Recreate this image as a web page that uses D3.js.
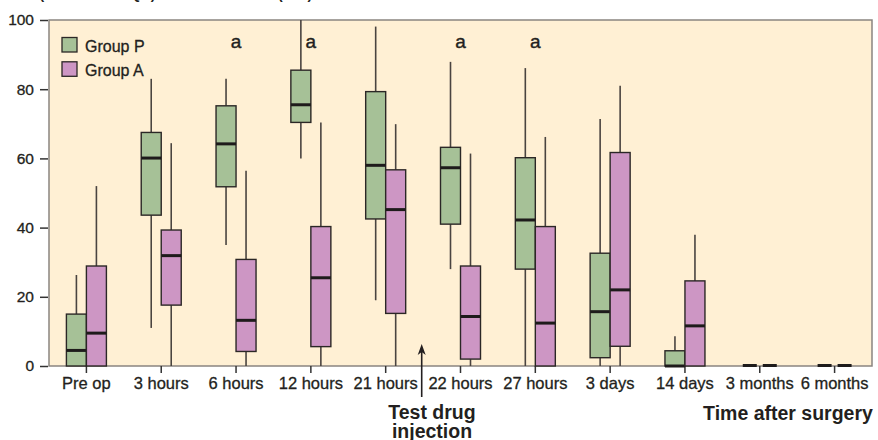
<!DOCTYPE html>
<html>
<head>
<meta charset="utf-8">
<script src="https://cdn.jsdelivr.net/npm/d3@7"></script>
<style>
  body { margin: 0; background: #fff; }
  text { font-family: "Liberation Sans", Arial, Helvetica, sans-serif; fill: #231f20; }
</style>
</head>
<body>
<svg id="chart" width="878" height="440"></svg>
<script>
// categories along the x axis
var categories = ["Pre op", "3 hours", "6 hours", "12 hours", "21 hours", "22 hours",
                  "27 hours", "3 days", "14 days", "3 months", "6 months"];

// Group P: whisker min, q1, median, q3, whisker max
var pMin = [0, 11, 35, 60, 19, 28, 0, 0, 0, 0, 0];
var pQ1  = [0, 43.6, 51.8, 70.4, 42.5, 41, 28, 2.4, 0, 0, 0];
var pMed = [4.5, 60.1, 64.2, 75.5, 58, 57.3, 42.2, 15.7, 0, 0, 0];
var pQ3  = [15, 67.5, 75.2, 85.5, 79.3, 63.2, 60.2, 32.6, 4.4, 0, 0];
var pMax = [26.3, 83, 83, 100, 98.1, 87.9, 86.1, 71.4, 8.6, 0, 0];

// Group A
var aMin = [0, 0, 0, 0, 0, 0, 0, 0, 0, 0, 0];
var aQ1  = [0, 17.6, 4.2, 5.6, 15.2, 2, 0, 5.7, 0, 0, 0];
var aMed = [9.5, 31.9, 13.2, 25.5, 45.2, 14.3, 12.4, 22, 11.6, 0, 0];
var aQ3  = [28.9, 39.3, 30.8, 40.3, 56.7, 28.9, 40.3, 61.7, 24.6, 0, 0];
var aMax = [52, 64.4, 56.4, 70.4, 69.9, 61.4, 66.2, 81, 37.9, 0, 0];

var yTicks = [0, 20, 40, 60, 80, 100];
var sigMarks = ["6 hours", "12 hours", "22 hours", "27 hours"];
var groups = ["Group P", "Group A"];

var colors = { P: "#a6c197", A: "#cd96c4", bg: "#fff0d4", border: "#8a8580" };

var svg = d3.select("#chart");
var pl = 49, pr = 872, pt = 20, pb = 366;
var boxW = 20;

var x = d3.scaleBand().domain(categories).range([pl, pr]).padding(0);
var y = d3.scaleLinear().domain([0, 100]).range([pb, pt]);

// axis title, cut off at the very top like the source
svg.append("text")
    .attr("x", 6).attr("y", -1.5)
    .style("font-size", "14px").style("font-weight", "bold")
    .text("Pain (median and IQR) VAS score at rest (mm)");

// plot background
svg.append("rect")
    .attr("x", pl).attr("y", pt)
    .attr("width", pr - pl).attr("height", pb - pt)
    .style("fill", colors.bg)
    .style("stroke", colors.border).style("stroke-width", 1.5);

// y axis
var yAxis = svg.append("g")
    .attr("transform", "translate(" + (pl - 1) + ",0)")
    .call(d3.axisLeft(y).tickValues(yTicks).tickSize(8).tickPadding(6));
yAxis.select(".domain").remove();
yAxis.selectAll("line").style("stroke", "#333").style("stroke-width", 1.5);
yAxis.selectAll("text").style("font-size", "15.5px").style("font-family", "Liberation Sans, Arial")
    .style("fill", "#231f20").style("stroke", "#231f20").style("stroke-width", 0.3);

// x axis
var xAxis = svg.append("g")
    .attr("transform", "translate(0," + pb + ")")
    .call(d3.axisBottom(x).tickSize(7).tickPadding(4));
xAxis.select(".domain").remove();
xAxis.selectAll("line").style("stroke", "#333").style("stroke-width", 1.5);
xAxis.selectAll("text").style("font-size", "16.5px").style("font-family", "Liberation Sans, Arial")
    .style("fill", "#231f20").style("stroke", "#231f20").style("stroke-width", 0.3);

// build box data
var boxes = [];
categories.forEach(function (c, i) {
    boxes.push({ cat: c, g: "P", off: -boxW, min: pMin[i], q1: pQ1[i], med: pMed[i], q3: pQ3[i], max: pMax[i] });
    boxes.push({ cat: c, g: "A", off: 0, min: aMin[i], q1: aQ1[i], med: aMed[i], q3: aQ3[i], max: aMax[i] });
});

function cx(d) { return x(d.cat) + x.bandwidth() / 2 + d.off + boxW / 2; }

var box = svg.selectAll(".box").data(boxes).enter()
    .append("g").attr("class", "box");

// whiskers
box.filter(function (d) { return d.max > d.q3; }).append("line")
    .attr("x1", cx).attr("x2", cx)
    .attr("y1", function (d) { return y(d.max); })
    .attr("y2", function (d) { return y(d.q3); })
    .style("stroke", "#4a4440").style("stroke-width", 1.6);
box.filter(function (d) { return d.q1 > d.min; }).append("line")
    .attr("x1", cx).attr("x2", cx)
    .attr("y1", function (d) { return y(d.q1); })
    .attr("y2", function (d) { return y(d.min); })
    .style("stroke", "#4a4440").style("stroke-width", 1.6);

// boxes
box.filter(function (d) { return d.q3 > d.q1; }).append("rect")
    .attr("x", function (d) { return cx(d) - boxW / 2; })
    .attr("width", boxW)
    .attr("y", function (d) { return y(d.q3); })
    .attr("height", function (d) { return y(d.q1) - y(d.q3); })
    .style("fill", function (d) { return colors[d.g]; })
    .style("stroke", "#2b2726").style("stroke-width", 1.4);

// medians (zero boxes get a short dash)
box.append("line")
    .attr("x1", function (d) { return cx(d) - (d.q3 > d.q1 ? boxW / 2 : 7); })
    .attr("x2", function (d) { return cx(d) + (d.q3 > d.q1 ? boxW / 2 : 7); })
    .attr("y1", function (d) { return y(d.med) - (d.q3 > d.q1 ? 0 : 0.5); })
    .attr("y2", function (d) { return y(d.med) - (d.q3 > d.q1 ? 0 : 0.5); })
    .style("stroke", "#1e1b1b").style("stroke-width", 3);

// significance letters
svg.selectAll(".sig").data(sigMarks).enter()
    .append("text").attr("class", "sig")
    .attr("x", function (d) { return x(d) + x.bandwidth() / 2; })
    .attr("y", 48)
    .attr("text-anchor", "middle")
    .style("font-size", "19px").style("stroke", "#231f20").style("stroke-width", 0.4)
    .text("a");

// legend
var leg = svg.selectAll(".leg").data(groups).enter()
    .append("g").attr("class", "leg")
    .attr("transform", function (d, i) { return "translate(62," + (37.5 + i * 24.3) + ")"; });
leg.append("rect")
    .attr("width", 15).attr("height", 14.5)
    .style("fill", function (d, i) { return i === 0 ? colors.P : colors.A; })
    .style("stroke", "#2b2726").style("stroke-width", 1.3);
leg.append("text")
    .attr("x", 23).attr("y", 14)
    .style("font-size", "16px").style("stroke", "#231f20").style("stroke-width", 0.3)
    .text(function (d) { return d; });

// injection arrow
var arrowX = 421.7;
svg.append("line")
    .attr("x1", arrowX).attr("x2", arrowX)
    .attr("y1", 397).attr("y2", 350)
    .style("stroke", "#231f20").style("stroke-width", 1.6);
svg.append("path")
    .attr("d", "M" + (arrowX - 4) + ",355 L" + arrowX + ",344 L" + (arrowX + 4) + ",355 L" + arrowX + ",352 Z")
    .style("fill", "#231f20");

svg.append("text")
    .attr("x", 432).attr("y", 419)
    .attr("text-anchor", "middle")
    .style("font-size", "19.5px").style("font-weight", "bold")
    .text("Test drug");
svg.append("text")
    .attr("x", 432).attr("y", 438)
    .attr("text-anchor", "middle")
    .style("font-size", "19.5px").style("font-weight", "bold")
    .text("injection");

svg.append("text")
    .attr("x", 788).attr("y", 420)
    .attr("text-anchor", "middle")
    .style("font-size", "19.5px").style("font-weight", "bold")
    .text("Time after surgery");
</script>
</body>
</html>
